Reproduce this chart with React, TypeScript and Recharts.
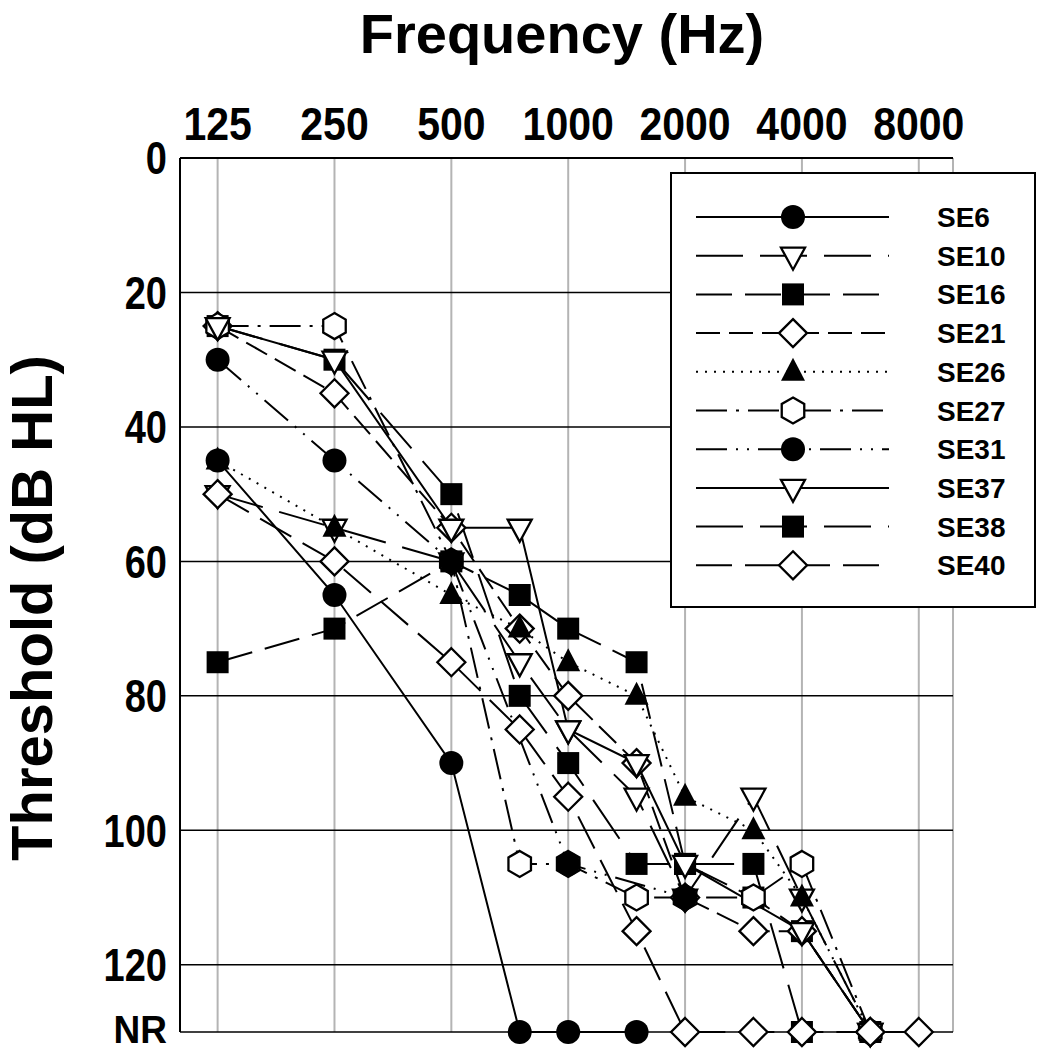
import React from "react";
import { LineChart, Line, XAxis, YAxis, CartesianGrid } from "recharts";

// audiometric thresholds, dB HL (130 = no response)
const FREQS = [125, 250, 500, 750, 1000, 1500, 2000, 3000, 4000, 6000, 8000];
const FREQ_TICKS = [125, 250, 500, 1000, 2000, 4000, 8000];
const DB_TICKS = [0, 20, 40, 60, 80, 100, 120, 130];
const NR = 130;

const SE6 = [45, 65, 90, NR, NR, NR, null, null, null, null, null];
const SE10 = [50, 55, 60, 75, 85, 95, 110, 95, 110, NR, null];
const SE16 = [75, 70, 60, 65, 70, 75, 105, 110, 115, NR, null];
const SE21 = [25, 35, 55, 70, 80, 90, 110, 115, 115, NR, null];
const SE26 = [45, 55, 65, 70, 75, 80, 95, 100, 110, NR, null];
const SE27 = [25, 25, 60, 105, 105, 110, 110, 110, 105, NR, null];
const SE31 = [30, 45, 60, null, 105, null, 110, null, null, null, null];
const SE37 = [25, 30, 55, 55, 85, 90, 105, null, 115, NR, null];
const SE38 = [25, 30, 50, 80, 90, 105, 105, 105, NR, null, null];
const SE40 = [50, 60, 75, 85, 95, 115, NR, NR, NR, NR, NR];

const FONT = "'Liberation Sans', Arial, Helvetica, sans-serif";

type Kind = "circle" | "tri" | "sq" | "dia" | "triUp" | "hex";

const SERIES: { name: string; values: (number | null)[]; kind: Kind; dash?: string }[] = [
  { name: "SE6", values: SE6, kind: "circle" },
  { name: "SE10", values: SE10, kind: "tri", dash: "47 17" },
  { name: "SE16", values: SE16, kind: "sq", dash: "36 13" },
  { name: "SE21", values: SE21, kind: "dia", dash: "24 9" },
  { name: "SE26", values: SE26, kind: "triUp", dash: "2 7" },
  { name: "SE27", values: SE27, kind: "hex", dash: "31 9 3 9" },
  { name: "SE31", values: SE31, kind: "circle", dash: "31 9 2 9 2 9" },
  { name: "SE37", values: SE37, kind: "tri" },
  { name: "SE38", values: SE38, kind: "sq", dash: "47 17" },
  { name: "SE40", values: SE40, kind: "dia", dash: "36 13" },
];

// order the lines are painted in (so overlapping symbols stack like the original)
const DRAW_ORDER = ["SE38", "SE10", "SE16", "SE21", "SE26", "SE6", "SE27", "SE37", "SE31", "SE40"];

const data = FREQS.map((f, i) => {
  const row: Record<string, number | null> = { f };
  SERIES.forEach((s) => {
    row[s.name] = s.values[i];
  });
  return row;
});

function marker(kind: Kind, cx: number, cy: number) {
  const sw = 2.3;
  switch (kind) {
    case "circle":
      return <circle cx={cx} cy={cy} r={12} fill="#000" />;
    case "sq":
      return <rect x={cx - 11} y={cy - 11} width={22} height={22} fill="#000" />;
    case "tri":
      return (
        <polygon
          points={`${cx - 12},${cy - 8} ${cx + 12},${cy - 8} ${cx},${cy + 14}`}
          fill="#fff"
          stroke="#000"
          strokeWidth={sw}
        />
      );
    case "triUp":
      return <polygon points={`${cx},${cy - 14} ${cx + 12},${cy + 9} ${cx - 12},${cy + 9}`} fill="#000" />;
    case "dia":
      return (
        <polygon
          points={`${cx},${cy - 14} ${cx + 14},${cy} ${cx},${cy + 14} ${cx - 14},${cy}`}
          fill="#fff"
          stroke="#000"
          strokeWidth={sw}
        />
      );
    case "hex": {
      const pts = [-90, -30, 30, 90, 150, 210]
        .map((a) => {
          const r = (a * Math.PI) / 180;
          return `${cx + 13 * Math.cos(r)},${cy + 13 * Math.sin(r)}`;
        })
        .join(" ");
      return <polygon points={pts} fill="#fff" stroke="#000" strokeWidth={sw} />;
    }
  }
}

function makeDot(kind: Kind, name: string) {
  return (props: any) => {
    const { cx, cy, value, index } = props;
    if (value == null || cx == null || cy == null) return <g key={`${name}-${index}`} />;
    return <g key={`${name}-${index}`}>{marker(kind, cx, cy)}</g>;
  };
}

function TopTick(props: any) {
  const { x, payload } = props;
  return (
    <g transform={`translate(${x},140) scale(1,1.13)`}>
      <text textAnchor="middle" fontSize={41} fontWeight="bold" fill="#000" fontFamily={FONT}>
        {payload.value}
      </text>
    </g>
  );
}

function LeftTick(props: any) {
  const { y, payload } = props;
  const isNR = payload.value === NR;
  return (
    <g transform={`translate(167,${isNR ? y - 3 : y}) scale(1,${isNR ? 1.05 : 1.2})`}>
      <text textAnchor="end" dy="0.36em" fontSize={isNR ? 37 : 38} fontWeight="bold" fill="#000" fontFamily={FONT}>
        {isNR ? "NR" : payload.value}
      </text>
    </g>
  );
}

function Overlay() {
  const rowY = (i: number) => 217 + i * 38.7;
  return (
    <svg width={1042} height={1050} style={{ position: "absolute", left: 0, top: 0, pointerEvents: "none" }}>
      <text x={562} y={53} textAnchor="middle" fontSize={56} fontWeight="bold" fontFamily={FONT} fill="#000">
        Frequency (Hz)
      </text>
      <text
        transform="translate(52,608) rotate(-90)"
        textAnchor="middle"
        fontSize={58}
        fontWeight="bold"
        fontFamily={FONT}
        fill="#000"
      >
        Threshold (dB HL)
      </text>
      <rect x={671} y={173} width={364} height={434} fill="#fff" stroke="#000" strokeWidth={2} />
      {SERIES.map((s, i) => (
        <g key={s.name}>
          <line
            x1={696}
            x2={889}
            y1={rowY(i)}
            y2={rowY(i)}
            stroke="#000"
            strokeWidth={2}
            strokeDasharray={s.dash}
          />
          {marker(s.kind, 793, rowY(i))}
          <text x={937} y={rowY(i)} dy="0.36em" fontSize={28} fontWeight="bold" fontFamily={FONT} fill="#000">
            {s.name}
          </text>
        </g>
      ))}
    </svg>
  );
}

export default function App() {
  const ordered = DRAW_ORDER.map((n) => SERIES.find((s) => s.name === n)!);
  return (
    <div style={{ position: "absolute", left: 0, top: 0, width: 1042, height: 1050, background: "#fff", fontFamily: FONT }}>
      <LineChart width={1042} height={1050} data={data} margin={{ top: 98, right: 89, bottom: 18, left: 80 }}>
        <CartesianGrid horizontal={false} stroke="#b4b4b4" strokeWidth={2} />
        <CartesianGrid vertical={false} stroke="#000" strokeWidth={1.5} />
        <XAxis
          dataKey="f"
          type="number"
          scale="log"
          domain={[100, 9800]}
          ticks={FREQ_TICKS}
          interval={0}
          orientation="top"
          height={60}
          axisLine={{ stroke: "#000", strokeWidth: 2 }}
          tickLine={false}
          tick={<TopTick />}
        />
        <XAxis
          xAxisId="b"
          dataKey="f"
          type="number"
          scale="log"
          domain={[100, 9800]}
          orientation="bottom"
          height={0}
          tick={false}
          tickLine={false}
          axisLine={{ stroke: "#000", strokeWidth: 2 }}
        />
        <YAxis
          type="number"
          domain={[0, 130]}
          reversed
          ticks={DB_TICKS}
          interval={0}
          width={100}
          axisLine={{ stroke: "#000", strokeWidth: 2 }}
          tickLine={false}
          tick={<LeftTick />}
        />
        <YAxis
          yAxisId="r"
          orientation="right"
          type="number"
          domain={[0, 130]}
          reversed
          width={0}
          tick={false}
          tickLine={false}
          axisLine={{ stroke: "#000", strokeWidth: 2 }}
        />
        {ordered.map((s) => (
          <Line
            key={s.name}
            dataKey={s.name}
            stroke="#000"
            strokeWidth={2}
            strokeDasharray={s.dash}
            dot={makeDot(s.kind, s.name)}
            activeDot={false}
            connectNulls
            isAnimationActive={false}
          />
        ))}
      </LineChart>
      <Overlay />
    </div>
  );
}
